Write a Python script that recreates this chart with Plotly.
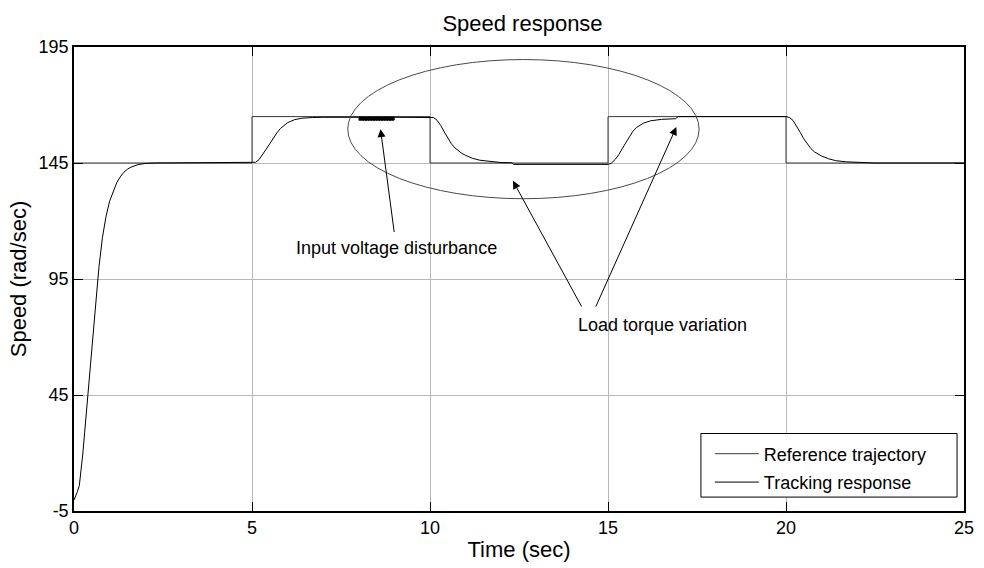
import numpy as np
import plotly.graph_objects as go

# Reference speed trajectory (piecewise constant steps)
t_ref = [0, 5, 5, 10, 10, 15, 15, 20, 20, 25]
speed_ref = [145, 145, 165, 165, 145, 145, 165, 165, 145, 145]

# Measured tracking response (rad/sec) before the voltage disturbance
t_track_a = [0, 0.05, 0.1, 0.15, 0.2, 0.25, 0.3, 0.35, 0.4, 0.5, 0.6, 0.7, 0.8, 0.9,
             1.0, 1.1, 1.2, 1.3, 1.4, 1.5, 1.6, 1.8, 2.0, 2.3, 5.0,
             5.1, 5.2, 5.3, 5.4, 5.5, 5.6, 5.7, 5.8, 5.9, 6.0, 6.2, 6.4, 6.7, 7.0, 8.0]
speed_track_a = [-0.3, 1.5, 3.5, 6, 12, 20, 29, 38, 47, 65, 84, 100, 113, 122,
                 128.5, 133, 136.5, 139, 141, 142.3, 143.2, 144.3, 144.8, 145, 145,
                 145.3, 146.5, 148.5, 151, 153.3, 155.8, 158, 159.9, 161.3, 162.4, 163.7, 164.3, 164.6, 164.7, 164.7]

# Input voltage disturbance window (8 s to 9 s), sampled every 12.5 ms
t_dist = np.linspace(8.0, 9.0, 81)
speed_dist = [164.7, 163.3, 165.0, 163.4, 164.9, 163.2, 165.0, 163.4, 164.9, 163.3,
              165.0, 163.2, 164.9, 163.4, 165.0, 163.3, 164.9, 163.2, 165.0, 163.4,
              164.9, 163.3, 165.0, 163.2, 164.9, 163.4, 165.0, 163.3, 164.9, 163.2,
              165.0, 163.4, 164.9, 163.3, 165.0, 163.2, 164.9, 163.4, 165.0, 163.3,
              164.9, 163.2, 165.0, 163.4, 164.9, 163.3, 165.0, 163.2, 164.9, 163.4,
              165.0, 163.3, 164.9, 163.2, 165.0, 163.4, 164.9, 163.3, 165.0, 163.2,
              164.9, 163.4, 165.0, 163.3, 164.9, 163.2, 165.0, 163.4, 164.9, 163.3,
              165.0, 163.2, 164.9, 163.4, 165.0, 163.3, 164.9, 163.2, 165.0, 163.5,
              164.7]

# Tracking response after the disturbance, including load torque changes
t_track_b = [9.0, 10.0, 10.1, 10.2, 10.3, 10.4, 10.5, 10.6, 10.7, 10.8, 10.9, 11.0, 11.2, 11.4,
             11.7, 12.0, 12.3, 12.35, 15.0,
             15.1, 15.2, 15.3, 15.4, 15.5, 15.6, 15.7, 15.8, 15.9, 16.0, 16.2, 16.5, 16.9, 16.97, 20.0,
             20.1, 20.2, 20.3, 20.4, 20.5, 20.6, 20.7, 20.8, 20.9, 21.0, 21.2, 21.4, 21.7, 22.0, 22.5, 25.0]
speed_track_b = [164.7, 164.8, 164.6, 163.4, 161.2, 158.4, 155.6, 153.3, 151.5, 150.1, 149.1, 148.3, 147.0, 146.2,
                 145.6, 145.2, 145.1, 144.4, 144.4,
                 145, 146.5, 148.5, 151.2, 153.8, 156.4, 158.7, 160.3, 161.4, 162.2, 163.2, 163.8, 164.1, 165, 165,
                 164.6, 163.3, 161.0, 158.2, 155.4, 153.1, 151.2, 149.8, 148.8, 148.0, 146.8, 146.0, 145.5, 145.2, 145, 145]

t_track = list(t_track_a) + list(t_dist[1:]) + list(t_track_b[1:])
speed_track = list(speed_track_a) + list(speed_dist[1:]) + list(speed_track_b[1:])

x_ticks = [0, 5, 10, 15, 20, 25]
y_ticks = [-5, 45, 95, 145, 195]
y_tick_text = ["-5", "45", "95", "145", "195"]

FONT = "Liberation Sans, Arial, sans-serif"

fig = go.Figure()
fig.add_trace(go.Scatter(x=t_ref, y=speed_ref, mode="lines", name="Reference trajectory",
                         legendgroup="ref", line=dict(color="#3a3a3a", width=1)))
fig.add_trace(go.Scatter(x=t_track, y=speed_track, mode="lines", name="Tracking response",
                         legendgroup="trk", line=dict(color="black", width=1)))

# Ellipse highlighting the load-torque region
fig.add_shape(type="circle", xref="x", yref="y", x0=7.69, x1=17.56, y0=129.6, y1=189.6,
              line=dict(color="#4a4a4a", width=1))

# Legend frame
fig.add_shape(type="rect", xref="paper", yref="paper", x0=0.7044, x1=0.9922, y0=0.03, y1=0.167,
              line=dict(color="black", width=1), fillcolor="white", layer="above")

arrow = dict(showarrow=True, arrowhead=2, arrowsize=1.6, arrowwidth=1, arrowcolor="black",
             axref="x", ayref="y", text="")
fig.add_annotation(x=8.61, y=159.6, ax=9.0, ay=114.6, **arrow)
fig.add_annotation(x=12.33, y=137.3, ax=14.28, ay=82.5, **arrow)
fig.add_annotation(x=16.92, y=160.5, ax=14.64, ay=82.5, **arrow)

fig.add_annotation(x=9.06, y=108.2, text="Input voltage disturbance", showarrow=False,
                   xanchor="center", yanchor="middle", font=dict(size=18, color="black", family=FONT))
fig.add_annotation(x=14.11, y=75.2, text="Load torque variation", showarrow=False,
                   xanchor="left", yanchor="middle", font=dict(size=18, color="black", family=FONT))

axis_common = dict(showline=True, linecolor="black", linewidth=1.5, mirror="ticks",
                   ticks="inside", ticklen=9, tickcolor="black", tickwidth=1,
                   showgrid=True, gridcolor="#b8b8b8", gridwidth=1, zeroline=False,
                   tickfont=dict(size=18, color="black", family=FONT))

fig.update_layout(
    width=984, height=568,
    margin=dict(l=74, r=10, t=47, b=54),
    paper_bgcolor="white", plot_bgcolor="white",
    font=dict(family=FONT, color="black"),
    title=dict(text="Speed response", x=0.531, xanchor="center", y=1 - 23 / 568, yanchor="middle",
               yref="container", font=dict(size=22, color="black", family=FONT)),
    xaxis=dict(range=[0, 25], tickvals=x_ticks,
               title=dict(text="Time (sec)", font=dict(size=22, family=FONT), standoff=4),
               **axis_common),
    yaxis=dict(range=[-5, 195], tickvals=y_ticks, ticktext=y_tick_text,
               title=dict(text="Speed (rad/sec)", font=dict(size=22, family=FONT), standoff=6),
               **axis_common),
    legend=dict(x=(717 - 74) / 900, y=(514 - 438) / 467, xanchor="left", yanchor="top",
                bgcolor="rgba(0,0,0,0)", borderwidth=0,
                font=dict(size=18, color="black", family=FONT),
                tracegroupgap=2, itemwidth=44),
    showlegend=True,
)

fig.write_html("out.html")
